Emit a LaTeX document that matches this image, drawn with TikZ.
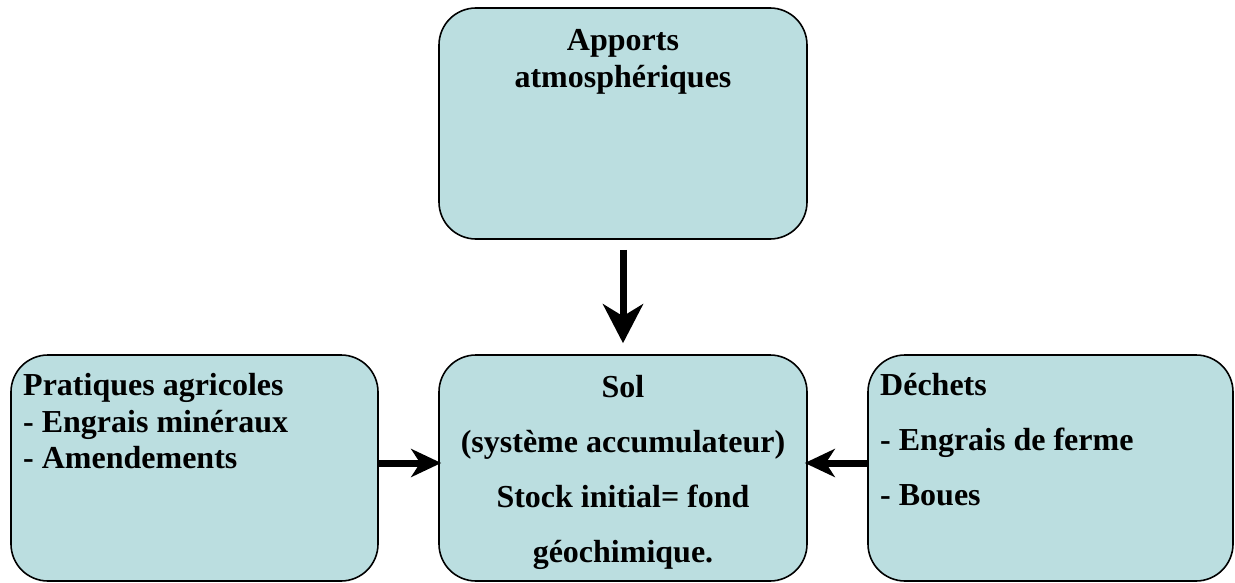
\documentclass[tikz,border=0pt]{standalone}
\usepackage{fontspec}
\setmainfont{Liberation Serif}
\usetikzlibrary{arrows.meta}
\definecolor{boxfill}{RGB}{187,222,224}
\begin{document}
\begin{tikzpicture}[x=1pt,y=-1pt,
  box/.style={draw=black,line width=1.6pt,fill=boxfill,rounded corners=37pt,inner sep=0pt},
  txt/.style={font=\fontsize{32}{37}\selectfont\bfseries,inner sep=0pt,anchor=base},
  ltxt/.style={txt,anchor=base west},
  flow/.style={line width=7pt},
  bigtip/.style={-{Stealth[length=39pt,width=40pt,inset=12pt]}},
  smalltip/.style={-{Stealth[length=30pt,width=28pt,inset=9pt]}}]
\useasboundingbox[fill=white] (0,0) rectangle (1235,583);
\node[box,minimum width=368pt,minimum height=231pt] (top) at (623,123.5) {};
\node[box,minimum width=368pt,minimum height=226pt] (mid) at (623,468) {};
\node[box,minimum width=367pt,minimum height=226pt] (left) at (194.5,468) {};
\node[box,minimum width=365pt,minimum height=226pt] (right) at (1050.5,468) {};
% texts
\node[txt] (t1) at (623,51) {Apports};
\node[txt] (t2) at (623,88) {atmosphériques};
\node[txt] (m1) at (623,397) {Sol};
\node[txt] (m2) at (623,452) {(système accumulateur)};
\node[txt] (m3) at (623,507) {Stock initial= fond};
\node[txt] (m4) at (623,562) {géochimique.};
\node[ltxt] (l1) at (23,395) {Pratiques agricoles};
\node[ltxt] (l2) at (23,432) {- Engrais minéraux};
\node[ltxt] (l3) at (23,468) {- Amendements};
\node[ltxt] (r1) at (880,395) {Déchets};
\node[ltxt] (r2) at (880,450) {- Engrais de ferme};
\node[ltxt] (r3) at (880,505) {- Boues};
% connectors
\coordinate (yarrow) at (0,463);
\draw[flow,bigtip,shorten <=10pt,shorten >=11pt] (top.south) -- (mid.north);
\draw[flow,smalltip] (left.east |- yarrow) -- ([xshift=3pt]mid.west |- yarrow);
\draw[flow,smalltip] (right.west |- yarrow) -- ([xshift=-3pt]mid.east |- yarrow);
\end{tikzpicture}
\end{document}
